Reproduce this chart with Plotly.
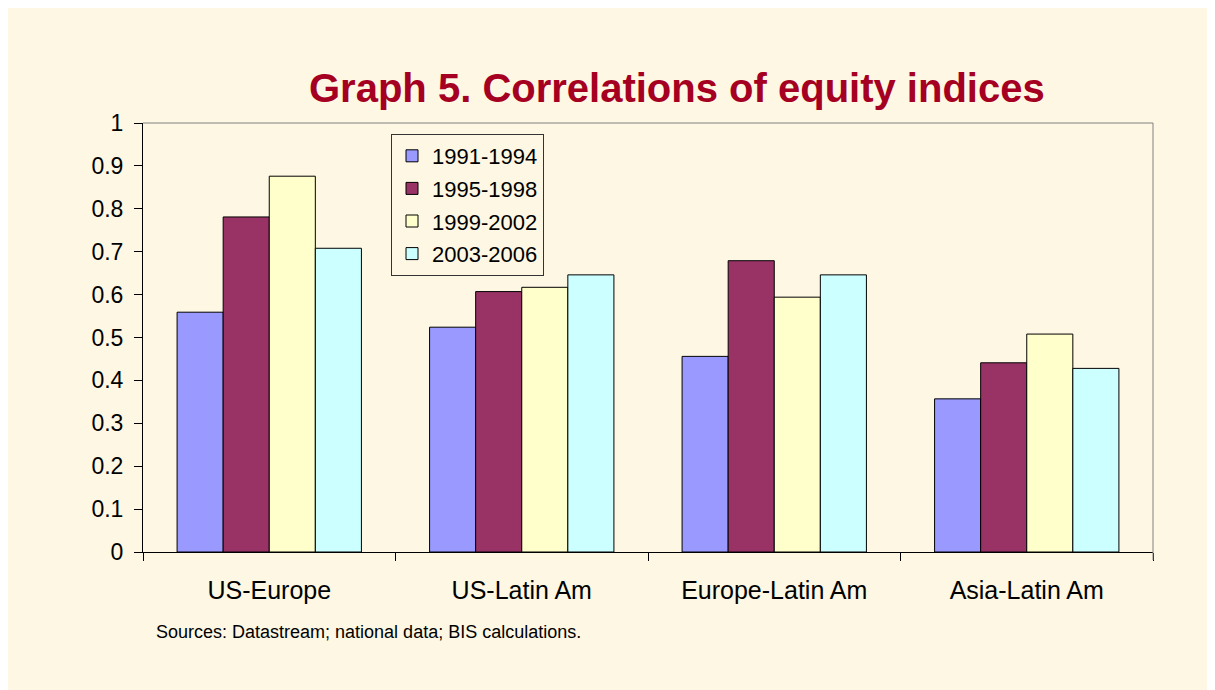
import plotly.graph_objects as go

categories = ["US-Europe", "US-Latin Am", "Europe-Latin Am", "Asia-Latin Am"]
periods = ["1991-1994", "1995-1998", "1999-2002", "2003-2006"]
v_1991_1994 = [0.559, 0.524, 0.456, 0.357]
v_1995_1998 = [0.781, 0.607, 0.679, 0.441]
v_1999_2002 = [0.876, 0.617, 0.594, 0.508]
v_2003_2006 = [0.708, 0.646, 0.646, 0.428]
series = [v_1991_1994, v_1995_1998, v_1999_2002, v_2003_2006]
colors = ["#9999FF", "#993366", "#FFFFCC", "#CCFFFF"]
y_ticks = [0, 0.1, 0.2, 0.3, 0.4, 0.5, 0.6, 0.7, 0.8, 0.9, 1]
y_ticklabels = ["0", "0.1", "0.2", "0.3", "0.4", "0.5", "0.6", "0.7", "0.8", "0.9", "1"]

W, H = 1230, 700
L, T = 135, 115
pw, ph = 1010, 429
R, B = W - L - pw, H - T - ph
cream = "#FDF7E4"
font = "Liberation Sans, Arial, sans-serif"

fig = go.Figure()
for name, vals, col in zip(periods, series, colors):
    fig.add_trace(go.Bar(
        x=categories, y=vals, name=name, legendgroup=name,
        marker=dict(color=col, line=dict(color="#000000", width=1)),
    ))

def px_x(p):
    return (p - L) / pw

def px_y(p):
    return 1 - (p - T) / ph

fig.update_layout(
    width=W, height=H,
    margin=dict(l=L, r=R, t=T, b=B),
    paper_bgcolor=cream, plot_bgcolor=cream,
    barmode="group", bargap=0.27, bargroupgap=0,
    font=dict(family=font, size=20, color="#000000"),
    showlegend=True,
    legend=dict(
        x=px_x(383), y=px_y(126), xanchor="left", yanchor="top",
        bgcolor=cream, bordercolor="#333333", borderwidth=1,
        font=dict(size=22, family=font), tracegroupgap=1,
        itemwidth=30,
    ),
    xaxis=dict(
        showline=True, linecolor="#000000", linewidth=1,
        ticks="outside", ticklen=8, tickcolor="#000000", tickson="boundaries",
        tickfont=dict(size=25, family=font), showgrid=False,
        ticklabelstandoff=16,
    ),
    yaxis=dict(
        range=[0, 1], tickvals=y_ticks, ticktext=y_ticklabels,
        showline=True, linecolor="#000000", linewidth=1,
        ticks="outside", ticklen=8, tickcolor="#000000",
        tickfont=dict(size=23, family=font), showgrid=False, zeroline=False,
        ticklabelstandoff=6,
    ),
    shapes=[
        dict(type="line", xref="paper", yref="paper", x0=0, x1=1, y0=1, y1=1,
             line=dict(color="#808080", width=1)),
        dict(type="line", xref="paper", yref="paper", x0=1, x1=1, y0=px_y(552), y1=1,
             line=dict(color="#808080", width=1)),
    ],
    annotations=[
        dict(text="<b>Graph 5. Correlations of equity indices</b>", xref="paper", yref="paper",
             x=px_x(669), y=px_y(80), xanchor="center", yanchor="middle", showarrow=False,
             font=dict(size=40, color="#A50021", family=font)),
        dict(text="Sources: Datastream; national data; BIS calculations.", xref="paper", yref="paper",
             x=px_x(146), y=px_y(624), xanchor="left", yanchor="middle", showarrow=False,
             font=dict(size=18, color="#000000", family=font)),
    ],
)

fig.write_html("out.html")
